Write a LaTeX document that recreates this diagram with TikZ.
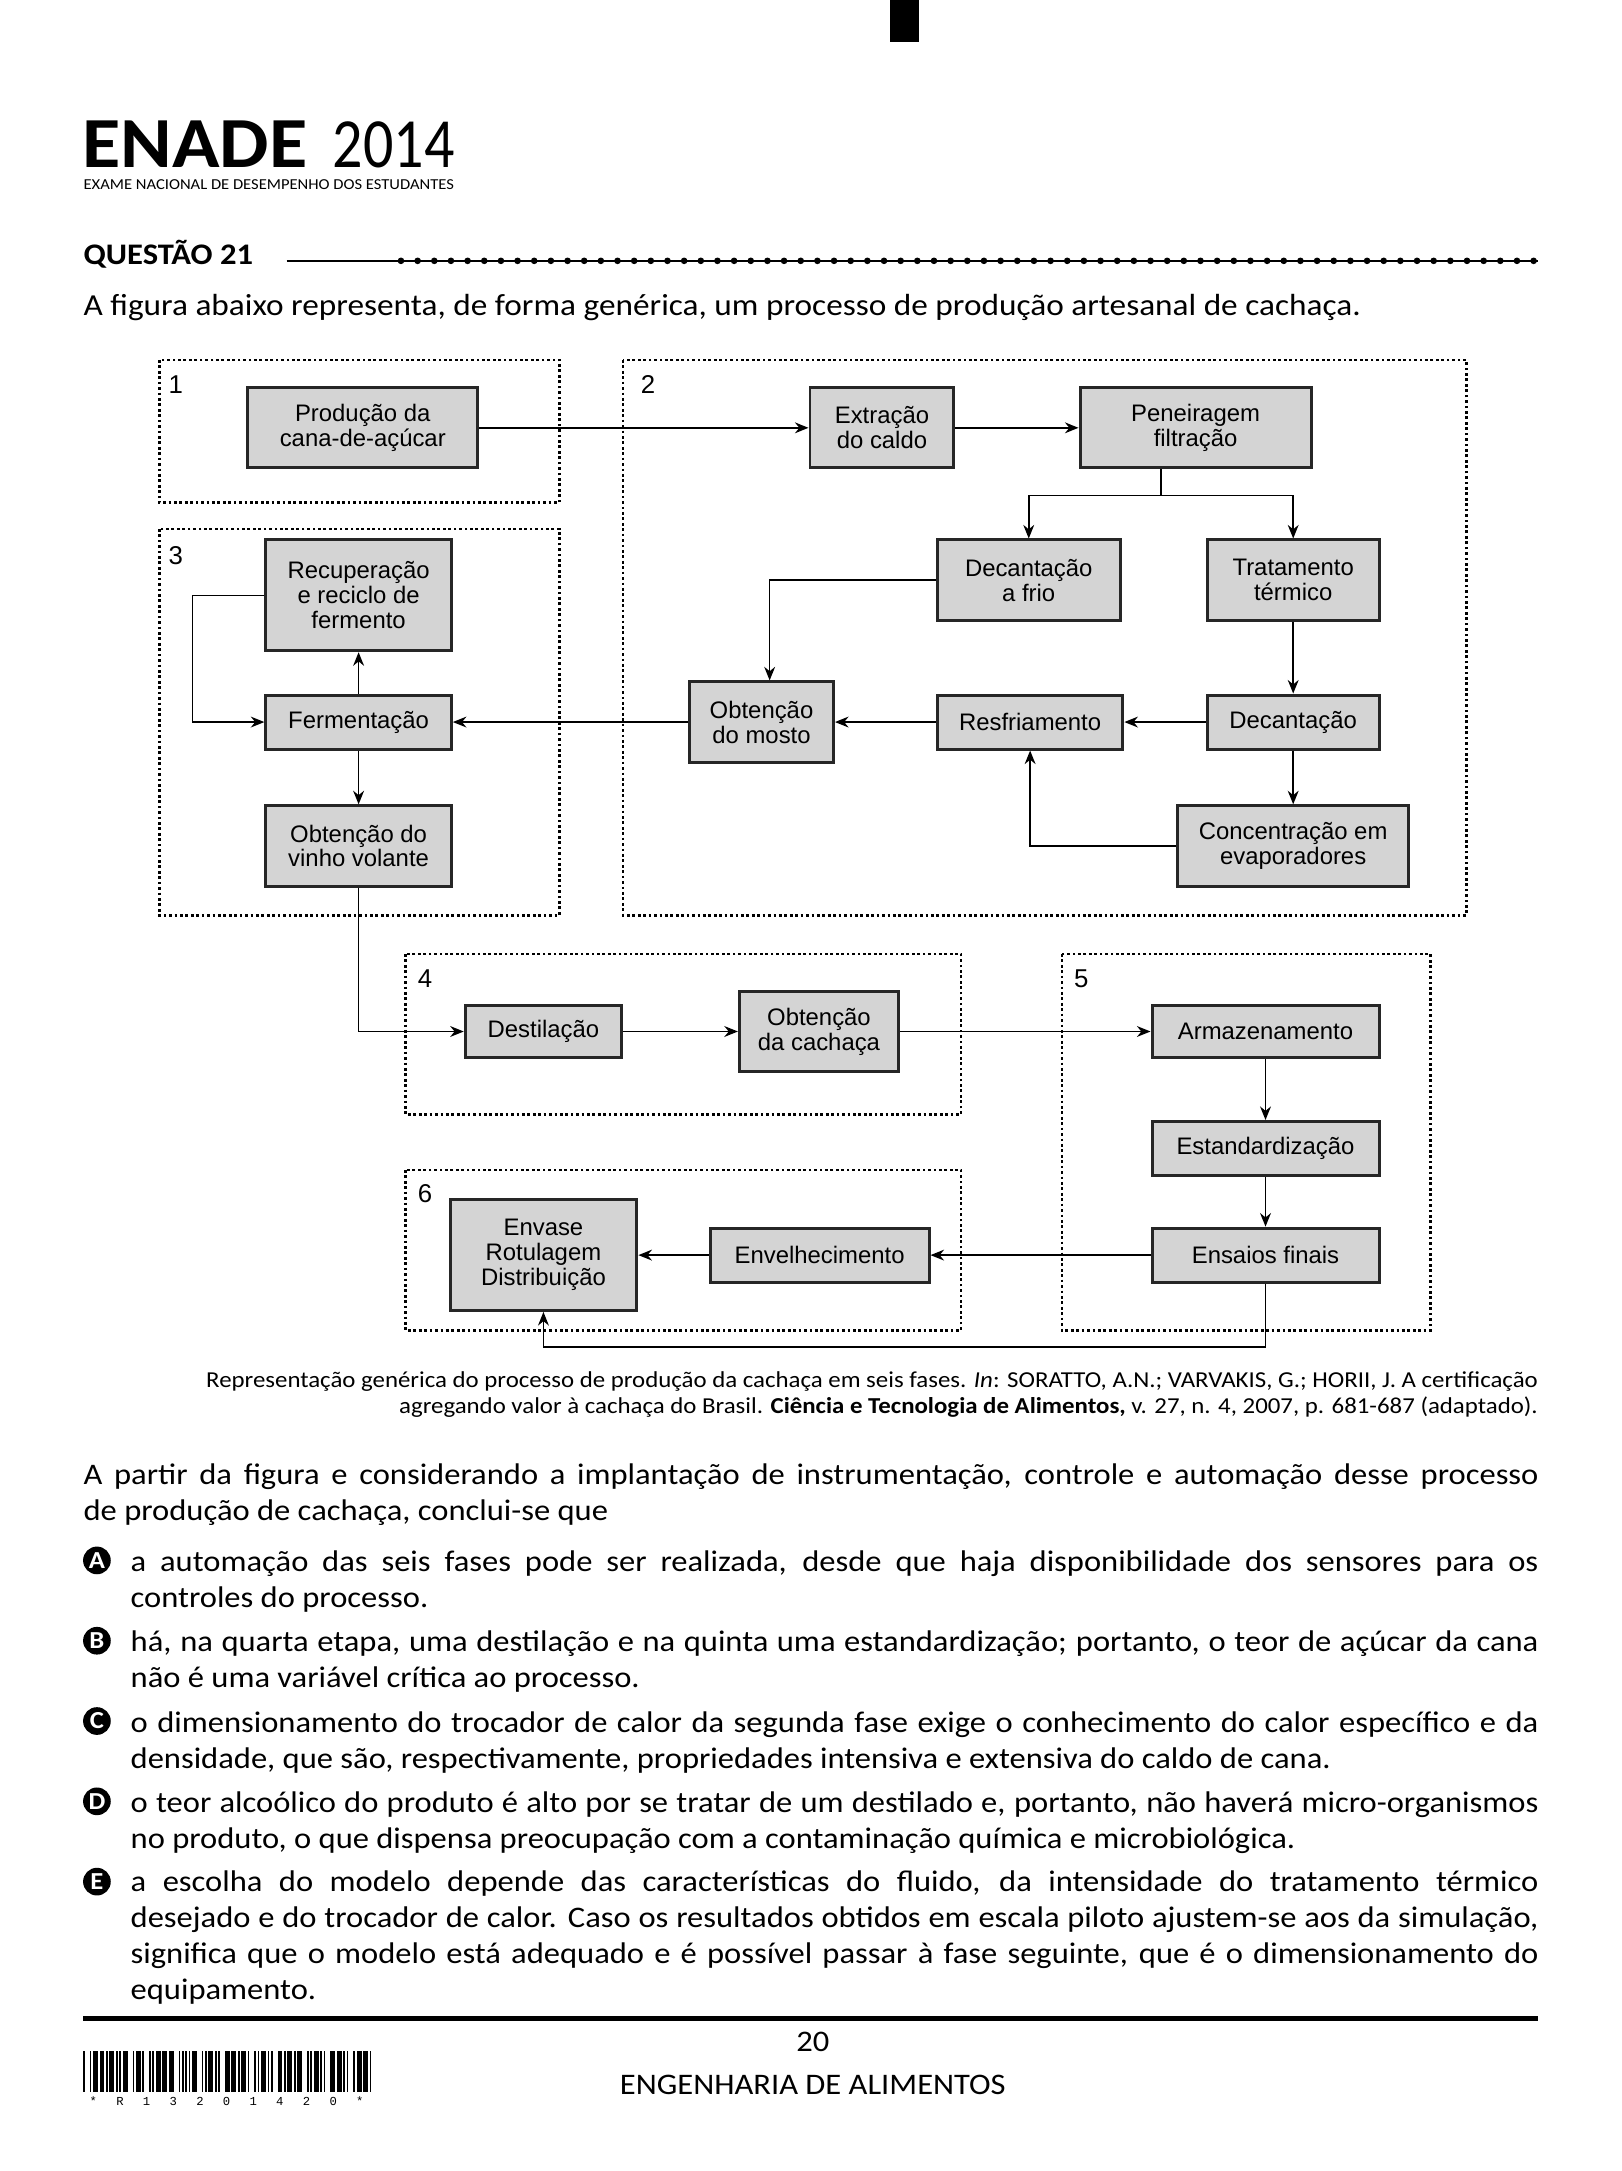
\documentclass[tikz,border=0pt]{standalone}
\usepackage{fontspec}
\setmainfont{Carlito}[FakeStretch=1.09]
\newfontfamily\logofont{Carlito}[FakeStretch=0.85]
\newfontfamily\diagfont{Liberation Sans}
\newfontfamily\codfont{Liberation Mono}
\usetikzlibrary{arrows.meta}
\begin{document}
\begin{tikzpicture}[x=0.0179334cm, y=-0.0179334cm,
    etapa/.style={draw=black!85, line width=1.1pt, fill=black!17, inner sep=0pt, align=center,
      font=\diagfont\fontsize{8.8}{9.2}\selectfont},
    tam/.style 2 args={minimum width=#1*0.51pt, minimum height=#2*0.51pt},
    fase/.style={draw, line width=1pt, dash pattern=on 1pt off 1pt},
    seta/.style={line width=0.6pt, -{Stealth[length=5pt, width=4pt]}},
    num/.style={inner sep=0pt, font=\diagfont\fontsize{9.5}{10}\selectfont},
    corpo/.style={inner sep=0pt, anchor=base west, align=justify, font=\fontsize{11}{13.25}\selectfont},
    letra/.style={circle, fill=black, inner sep=0pt, minimum size=20*0.51pt, text=white,
      font=\bfseries\fontsize{9}{9}\selectfont}]
    \fill[white] (0,0) rectangle (1171,1568);
    \useasboundingbox (0,0) rectangle (1171,1568);
    % cabecalho
    \fill (643,0) rectangle (664,30);
    \node [anchor=base west, inner sep=0pt, font=\bfseries\fontsize{26.5}{26.5}\selectfont] (enade) at (59,121) {ENADE};
    \node [anchor=base west, inner sep=0pt, font=\logofont\fontsize{26}{26}\selectfont] (ano) at (240,121) {2014};
    \node [anchor=base west, inner sep=0pt, font=\fontsize{5.6}{6}\selectfont] (exame) at (60,137) {EXAME NACIONAL DE DESEMPENHO DOS ESTUDANTES};
    \node [anchor=base west, inner sep=0pt, font=\bfseries\fontsize{11}{13}\selectfont] (questao) at (60,191) {QUESTÃO 21};
    \draw [line width=0.75pt] (207,188.4) -- (1111,188.4);
    \foreach \i in {0,...,68}
        \fill (289.6+\i*12.03,188.4) circle [radius=2.4];
    \node [corpo, font=\fontsize{11.25}{13.25}\selectfont] (intro) at (60,228) {A figura abaixo representa, de forma genérica, um processo de produção artesanal de cachaça.};
    % fases
    \draw [fase] (115,260) rectangle (404,363);
    \draw [fase] (450,260) rectangle (1059,661);
    \draw [fase] (115,382) rectangle (404,661);
    \draw [fase] (293,689) rectangle (694,805);
    \draw [fase] (767,689) rectangle (1033,961);
    \draw [fase] (293,845) rectangle (694,961);
    \node [num] (f1) at (127,278) {1};
    \node [num] (f2) at (468,278) {2};
    \node [num] (f3) at (127,401) {3};
    \node [num] (f4) at (307,707) {4};
    \node [num] (f5) at (781,707) {5};
    \node [num] (f6) at (307,862) {6};
    % etapas
    \node [etapa, tam={166}{58}] (prod) at (262,309) {Produção da\\cana-de-açúcar};
    \node [etapa, tam={104}{58}] (extr) at (637,309) {Extração\\do caldo};
    \node [etapa, tam={167}{58}] (pene) at (863.5,309) {Peneiragem\\filtração};
    \node [etapa, tam={132}{58}] (decf) at (743,419) {Decantação\\a frio};
    \node [etapa, tam={124}{58}] (trat) at (934,419) {Tratamento\\térmico};
    \node [etapa, tam={134}{80}] (recu) at (259,430) {Recuperação\\e reciclo de\\fermento};
    \node [etapa, tam={134}{39}] (ferm) at (259,521.5) {Fermentação};
    \node [etapa, tam={104}{58}] (most) at (550,521.5) {Obtenção\\do mosto};
    \node [etapa, tam={134}{39}] (resf) at (744,521.5) {Resfriamento};
    \node [etapa, tam={124}{39}] (deca) at (934,521.5) {Decantação};
    \node [etapa, tam={167}{58}] (conc) at (934,611) {Concentração em\\evaporadores};
    \node [etapa, tam={134}{58}] (vinh) at (259,611) {Obtenção do\\vinho volante};
    \node [etapa, tam={113}{38}] (dest) at (392.5,745) {Destilação};
    \node [etapa, tam={115}{58}] (cach) at (591.5,745) {Obtenção\\da cachaça};
    \node [etapa, tam={164}{38}] (arma) at (914,745) {Armazenamento};
    \node [etapa, tam={164}{39}] (esta) at (914,829.5) {Estandardização};
    \node [etapa, tam={164}{39}] (ensa) at (914,906.5) {Ensaios finais};
    \node [etapa, tam={158}{39}] (enve) at (592,906.5) {Envelhecimento};
    \node [etapa, tam={135}{80}] (envs) at (392.5,906.5) {Envase\\Rotulagem\\Distribuição};
    \coordinate (ramo) at (838.5,358);
    % ligacoes
    \draw [seta] (prod) -- (extr);
    \draw [seta] (extr) -- (pene);
    \draw (pene.south -| ramo) -- (ramo);
    \draw [seta] (ramo) -| (decf);
    \draw [seta] (ramo) -| (trat);
    \draw [seta] (decf.west) -| ([xshift=3pt]most.north);
    \draw [seta] (trat) -- (deca);
    \draw [seta] (deca) -- (resf);
    \draw [seta] (deca) -- (conc);
    \draw [seta] (conc.west) -| (resf.south);
    \draw [seta] (resf) -- (most);
    \draw [seta] (most) -- (ferm);
    \draw [seta] (ferm) -- (recu);
    \draw [seta] (recu.west) -- ++(-52,0) |- (ferm.west);
    \draw [seta] (ferm) -- (vinh);
    \draw [seta] (vinh.south) |- (dest.west);
    \draw [seta] (dest) -- (cach);
    \draw [seta] (cach) -- (arma);
    \draw [seta] (arma) -- (esta);
    \draw [seta] (esta) -- (ensa);
    \draw [seta] (ensa) -- (enve);
    \draw [seta] (enve) -- (envs);
    \draw [seta] (ensa.south) -- ++(0,46) -| (envs.south);
    % fonte
    \node [anchor=base east, inner sep=0pt, font=\fontsize{8.4}{10}\selectfont] (fonte1) at (1111,1002) {Representação genérica do processo de produção da cachaça em seis fases. \textit{In}: SORATTO, A.N.; VARVAKIS, G.; HORII, J. A certificação};
    \node [anchor=base east, inner sep=0pt, font=\fontsize{8.4}{10}\selectfont] (fonte2) at (1111,1021) {agregando valor à cachaça do Brasil. \textbf{Ciência e Tecnologia de Alimentos,} v. 27, n. 4, 2007, p. 681-687 (adaptado).};
    % enunciado e alternativas
    \node [corpo, text width=1051*0.51pt] (enunciado) at (60,1072) {A partir da figura e considerando a implantação de instrumentação, controle e automação desse processo\linebreak de produção de cachaça, conclui-se que};
    \node [letra] (la) at (70,1127) {A};
    \node [corpo, text width=1017*0.51pt] (alta) at (94,1135) {a automação das seis fases pode ser realizada, desde que haja disponibilidade dos sensores para os\linebreak controles do processo.};
    \node [letra] (lb) at (70,1185) {B};
    \node [corpo, text width=1017*0.51pt] (altb) at (94,1193) {há, na quarta etapa, uma destilação e na quinta uma estandardização; portanto, o teor de açúcar da cana\linebreak não é uma variável crítica ao processo.};
    \node [letra] (lc) at (70,1243) {C};
    \node [corpo, text width=1017*0.51pt] (altc) at (94,1251) {o dimensionamento do trocador de calor da segunda fase exige o conhecimento do calor específico e da\linebreak densidade, que são, respectivamente, propriedades intensiva e extensiva do caldo de cana.};
    \node [letra] (ld) at (70,1301) {D};
    \node [corpo, text width=1017*0.51pt] (altd) at (94,1309) {o teor alcoólico do produto é alto por se tratar de um destilado e, portanto, não haverá micro-organismos\linebreak no produto, o que dispensa preocupação com a contaminação química e microbiológica.};
    \node [letra] (le) at (70,1359) {E};
    \node [corpo, text width=1017*0.51pt] (alte) at (94,1366) {a escolha do modelo depende das características do fluido, da intensidade do tratamento térmico\linebreak desejado e do trocador de calor. Caso os resultados obtidos em escala piloto ajustem-se aos da simulação,\linebreak significa que o modelo está adequado e é possível passar à fase seguinte, que é o dimensionamento do\linebreak equipamento.};
    % rodape
    \draw [line width=2pt] (60,1458) -- (1111,1458);
    \node [font=\fontsize{11}{13}\selectfont, inner sep=0pt] (pagina) at (587,1475) {20};
    \node [font=\fontsize{11}{13}\selectfont, inner sep=0pt] (curso) at (587,1506) {ENGENHARIA DE ALIMENTOS};
    \pgfmathsetmacro{\bx}{60}
    \foreach \pat in {{0,1,0,0,1,0,1,0,0},{1,0,0,0,0,0,1,1,0},{1,0,0,1,0,0,0,0,1},{1,0,1,1,0,0,0,0,0},
                      {0,0,1,1,0,0,0,0,1},{0,0,0,1,1,0,1,0,0},{1,0,0,1,0,0,0,0,1},{0,0,0,1,1,0,0,0,1},
                      {0,0,1,1,0,0,0,0,1},{0,0,0,1,1,0,1,0,0},{0,1,0,0,1,0,1,0,0}} {
        \foreach \e [count=\i] in \pat {
            \pgfmathsetmacro{\w}{\e==1 ? 3.57 : 1.19}
            \ifodd\i \fill (\bx,1481) rectangle ++(\w,30); \fi
            \pgfmathsetmacro{\nx}{\bx+\w}
            \global\let\bx\nx
        }
        \pgfmathsetmacro{\nx}{\bx+1.19}
        \global\let\bx\nx
    }
    \foreach \c [count=\k from 0] in {*,R,1,3,2,0,1,4,2,0,*}
        \node [inner sep=0pt, anchor=base, font=\codfont\fontsize{4.5}{5}\selectfont] (cod\k) at (67.4+\k*19.25,1520.5) {\c};
\end{tikzpicture}
\end{document}
